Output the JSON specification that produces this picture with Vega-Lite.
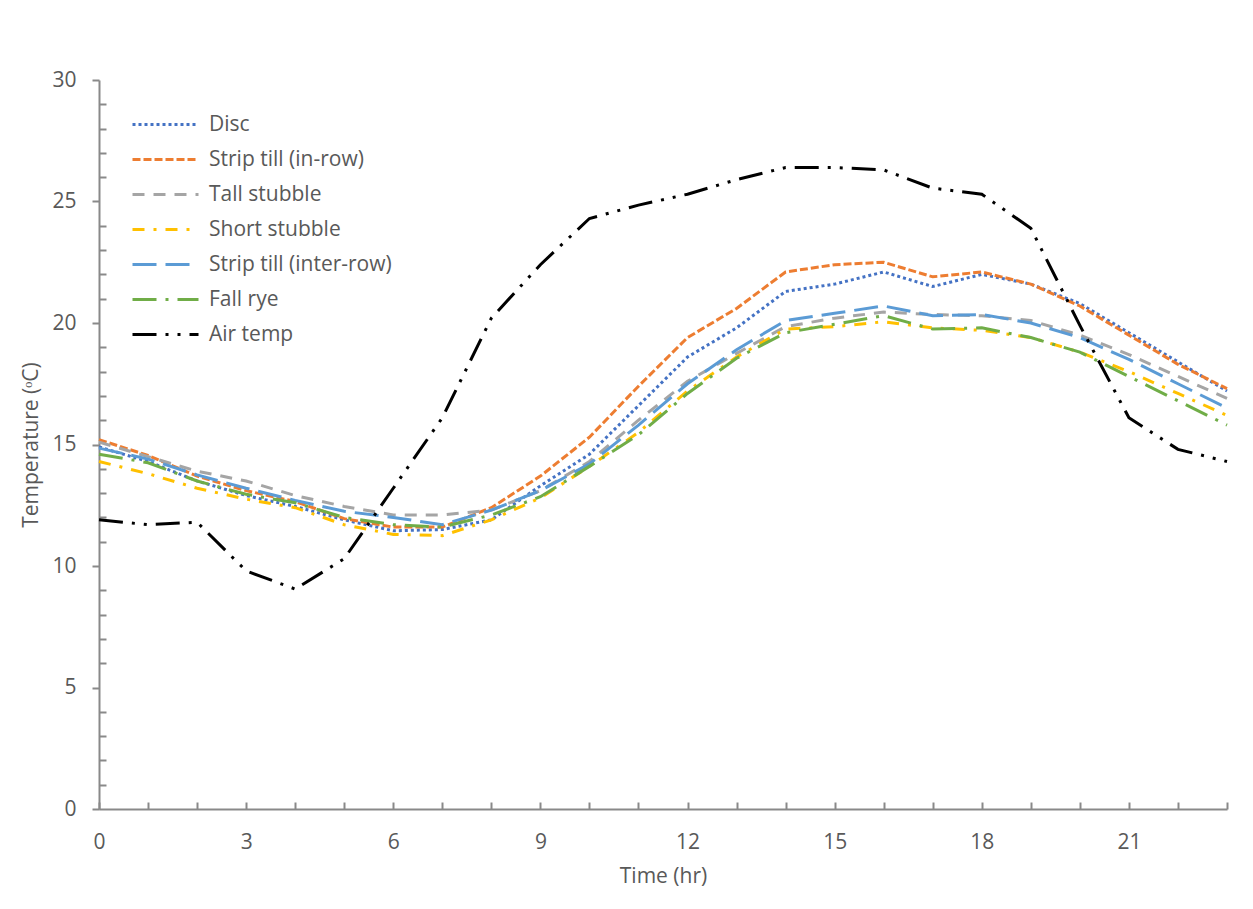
{
  "$schema": "https://vega.github.io/schema/vega-lite/v6.json",
  "width": 1128,
  "height": 729,
  "autosize": {"type": "none"},
  "padding": {"left": 99, "top": 80, "right": 26, "bottom": 100},
  "background": "white",
  "config": {
    "view": {"stroke": null},
    "font": "Open Sans",
    "axis": {"labelFont": "Open Sans", "titleFont": "Open Sans", "labelFontSize": 21, "titleFontSize": 21, "labelColor": "#595959", "titleColor": "#595959", "titleFontWeight": "normal", "domainColor": "#898989", "tickColor": "#898989", "domainWidth": 2, "tickWidth": 2, "grid": false},
    "legend": {"labelFont": "Open Sans", "labelFontSize": 21, "labelColor": "#595959"}
  },
  "data": {"values": [
    {"h":0,"s":"Disc","t":14.9},{"h":1,"s":"Disc","t":14.3},{"h":2,"s":"Disc","t":13.5},{"h":3,"s":"Disc","t":12.9},{"h":4,"s":"Disc","t":12.45},{"h":5,"s":"Disc","t":11.9},{"h":6,"s":"Disc","t":11.45},{"h":7,"s":"Disc","t":11.5},{"h":8,"s":"Disc","t":11.9},{"h":9,"s":"Disc","t":13.3},{"h":10,"s":"Disc","t":14.6},{"h":11,"s":"Disc","t":16.6},{"h":12,"s":"Disc","t":18.6},{"h":13,"s":"Disc","t":19.8},{"h":14,"s":"Disc","t":21.3},{"h":15,"s":"Disc","t":21.6},{"h":16,"s":"Disc","t":22.1},{"h":17,"s":"Disc","t":21.5},{"h":18,"s":"Disc","t":22.0},{"h":19,"s":"Disc","t":21.6},{"h":20,"s":"Disc","t":20.8},{"h":21,"s":"Disc","t":19.6},{"h":22,"s":"Disc","t":18.4},{"h":23,"s":"Disc","t":17.2},
    {"h":0,"s":"Strip till (in-row)","t":15.2},{"h":1,"s":"Strip till (in-row)","t":14.55},{"h":2,"s":"Strip till (in-row)","t":13.7},{"h":3,"s":"Strip till (in-row)","t":13.1},{"h":4,"s":"Strip till (in-row)","t":12.65},{"h":5,"s":"Strip till (in-row)","t":11.95},{"h":6,"s":"Strip till (in-row)","t":11.6},{"h":7,"s":"Strip till (in-row)","t":11.6},{"h":8,"s":"Strip till (in-row)","t":12.4},{"h":9,"s":"Strip till (in-row)","t":13.7},{"h":10,"s":"Strip till (in-row)","t":15.3},{"h":11,"s":"Strip till (in-row)","t":17.4},{"h":12,"s":"Strip till (in-row)","t":19.4},{"h":13,"s":"Strip till (in-row)","t":20.6},{"h":14,"s":"Strip till (in-row)","t":22.1},{"h":15,"s":"Strip till (in-row)","t":22.4},{"h":16,"s":"Strip till (in-row)","t":22.5},{"h":17,"s":"Strip till (in-row)","t":21.9},{"h":18,"s":"Strip till (in-row)","t":22.1},{"h":19,"s":"Strip till (in-row)","t":21.6},{"h":20,"s":"Strip till (in-row)","t":20.7},{"h":21,"s":"Strip till (in-row)","t":19.5},{"h":22,"s":"Strip till (in-row)","t":18.3},{"h":23,"s":"Strip till (in-row)","t":17.3},
    {"h":0,"s":"Tall stubble","t":15.1},{"h":1,"s":"Tall stubble","t":14.5},{"h":2,"s":"Tall stubble","t":13.9},{"h":3,"s":"Tall stubble","t":13.5},{"h":4,"s":"Tall stubble","t":12.9},{"h":5,"s":"Tall stubble","t":12.45},{"h":6,"s":"Tall stubble","t":12.1},{"h":7,"s":"Tall stubble","t":12.1},{"h":8,"s":"Tall stubble","t":12.3},{"h":9,"s":"Tall stubble","t":13.1},{"h":10,"s":"Tall stubble","t":14.3},{"h":11,"s":"Tall stubble","t":16.0},{"h":12,"s":"Tall stubble","t":17.6},{"h":13,"s":"Tall stubble","t":18.75},{"h":14,"s":"Tall stubble","t":19.85},{"h":15,"s":"Tall stubble","t":20.2},{"h":16,"s":"Tall stubble","t":20.45},{"h":17,"s":"Tall stubble","t":20.35},{"h":18,"s":"Tall stubble","t":20.3},{"h":19,"s":"Tall stubble","t":20.1},{"h":20,"s":"Tall stubble","t":19.5},{"h":21,"s":"Tall stubble","t":18.7},{"h":22,"s":"Tall stubble","t":17.8},{"h":23,"s":"Tall stubble","t":16.9},
    {"h":0,"s":"Short stubble","t":14.3},{"h":1,"s":"Short stubble","t":13.8},{"h":2,"s":"Short stubble","t":13.2},{"h":3,"s":"Short stubble","t":12.75},{"h":4,"s":"Short stubble","t":12.4},{"h":5,"s":"Short stubble","t":11.7},{"h":6,"s":"Short stubble","t":11.3},{"h":7,"s":"Short stubble","t":11.25},{"h":8,"s":"Short stubble","t":11.9},{"h":9,"s":"Short stubble","t":12.8},{"h":10,"s":"Short stubble","t":14.1},{"h":11,"s":"Short stubble","t":15.5},{"h":12,"s":"Short stubble","t":17.2},{"h":13,"s":"Short stubble","t":18.6},{"h":14,"s":"Short stubble","t":19.75},{"h":15,"s":"Short stubble","t":19.85},{"h":16,"s":"Short stubble","t":20.05},{"h":17,"s":"Short stubble","t":19.8},{"h":18,"s":"Short stubble","t":19.7},{"h":19,"s":"Short stubble","t":19.4},{"h":20,"s":"Short stubble","t":18.8},{"h":21,"s":"Short stubble","t":18.0},{"h":22,"s":"Short stubble","t":17.1},{"h":23,"s":"Short stubble","t":16.2},
    {"h":0,"s":"Strip till (inter-row)","t":14.85},{"h":1,"s":"Strip till (inter-row)","t":14.4},{"h":2,"s":"Strip till (inter-row)","t":13.75},{"h":3,"s":"Strip till (inter-row)","t":13.2},{"h":4,"s":"Strip till (inter-row)","t":12.7},{"h":5,"s":"Strip till (inter-row)","t":12.25},{"h":6,"s":"Strip till (inter-row)","t":12.0},{"h":7,"s":"Strip till (inter-row)","t":11.7},{"h":8,"s":"Strip till (inter-row)","t":12.3},{"h":9,"s":"Strip till (inter-row)","t":13.1},{"h":10,"s":"Strip till (inter-row)","t":14.2},{"h":11,"s":"Strip till (inter-row)","t":15.8},{"h":12,"s":"Strip till (inter-row)","t":17.5},{"h":13,"s":"Strip till (inter-row)","t":18.9},{"h":14,"s":"Strip till (inter-row)","t":20.1},{"h":15,"s":"Strip till (inter-row)","t":20.4},{"h":16,"s":"Strip till (inter-row)","t":20.7},{"h":17,"s":"Strip till (inter-row)","t":20.3},{"h":18,"s":"Strip till (inter-row)","t":20.35},{"h":19,"s":"Strip till (inter-row)","t":20.0},{"h":20,"s":"Strip till (inter-row)","t":19.4},{"h":21,"s":"Strip till (inter-row)","t":18.5},{"h":22,"s":"Strip till (inter-row)","t":17.5},{"h":23,"s":"Strip till (inter-row)","t":16.5},
    {"h":0,"s":"Fall rye","t":14.6},{"h":1,"s":"Fall rye","t":14.25},{"h":2,"s":"Fall rye","t":13.5},{"h":3,"s":"Fall rye","t":12.95},{"h":4,"s":"Fall rye","t":12.6},{"h":5,"s":"Fall rye","t":12.0},{"h":6,"s":"Fall rye","t":11.7},{"h":7,"s":"Fall rye","t":11.6},{"h":8,"s":"Fall rye","t":12.1},{"h":9,"s":"Fall rye","t":12.85},{"h":10,"s":"Fall rye","t":14.1},{"h":11,"s":"Fall rye","t":15.4},{"h":12,"s":"Fall rye","t":17.1},{"h":13,"s":"Fall rye","t":18.55},{"h":14,"s":"Fall rye","t":19.6},{"h":15,"s":"Fall rye","t":19.95},{"h":16,"s":"Fall rye","t":20.3},{"h":17,"s":"Fall rye","t":19.75},{"h":18,"s":"Fall rye","t":19.8},{"h":19,"s":"Fall rye","t":19.4},{"h":20,"s":"Fall rye","t":18.8},{"h":21,"s":"Fall rye","t":17.8},{"h":22,"s":"Fall rye","t":16.8},{"h":23,"s":"Fall rye","t":15.8},
    {"h":0,"s":"Air temp","t":11.9},{"h":1,"s":"Air temp","t":11.7},{"h":2,"s":"Air temp","t":11.8},{"h":3,"s":"Air temp","t":9.8},{"h":4,"s":"Air temp","t":9.05},{"h":5,"s":"Air temp","t":10.3},{"h":6,"s":"Air temp","t":13.2},{"h":7,"s":"Air temp","t":16.1},{"h":8,"s":"Air temp","t":20.2},{"h":9,"s":"Air temp","t":22.4},{"h":10,"s":"Air temp","t":24.3},{"h":11,"s":"Air temp","t":24.85},{"h":12,"s":"Air temp","t":25.3},{"h":13,"s":"Air temp","t":25.9},{"h":14,"s":"Air temp","t":26.4},{"h":15,"s":"Air temp","t":26.4},{"h":16,"s":"Air temp","t":26.3},{"h":17,"s":"Air temp","t":25.55},{"h":18,"s":"Air temp","t":25.3},{"h":19,"s":"Air temp","t":23.9},{"h":20,"s":"Air temp","t":19.9},{"h":21,"s":"Air temp","t":16.1},{"h":22,"s":"Air temp","t":14.8},{"h":23,"s":"Air temp","t":14.3}
  ]},
  "mark": {"type": "line", "strokeWidth": 3, "strokeCap": "butt"},
  "encoding": {
    "x": {"field": "h", "type": "quantitative", "title": "Time (hr)",
      "scale": {"domain": [0, 23], "nice": false, "zero": false},
      "axis": {"values": [0,1,2,3,4,5,6,7,8,9,10,11,12,13,14,15,16,17,18,19,20,21,22,23], "labelExpr": "datum.value % 3 === 0 ? datum.label : ''", "tickSize": -7, "labelPadding": 29, "titlePadding": 13, "labelFlush": false, "labelOverlap": false}},
    "y": {"field": "t", "type": "quantitative", "title": "Temperature (ᵒC)",
      "scale": {"domain": [0, 30], "nice": false},
      "axis": {"values": [0,1,2,3,4,5,6,7,8,9,10,11,12,13,14,15,16,17,18,19,20,21,22,23,24,25,26,27,28,29,30], "labelExpr": "datum.value % 5 === 0 ? datum.label : ''", "tickSize": {"condition": {"test": "datum.value % 5 === 0", "value": 7}, "value": -7}, "labelPadding": 16, "titlePadding": 10, "labelFlush": false, "labelOverlap": false}},
    "color": {"field": "s", "type": "nominal", "title": null,
      "scale": {"domain": ["Disc", "Strip till (in-row)", "Tall stubble", "Short stubble", "Strip till (inter-row)", "Fall rye", "Air temp"],
                "range": ["#4472C4", "#ED7D31", "#A5A5A5", "#FFC000", "#5B9BD5", "#70AD47", "#000000"]},
      "legend": {"orient": "none", "legendX": 55, "legendY": 33, "padding": 0, "symbolType": "M-3.3,0H3.3", "symbolSize": 400, "symbolStrokeWidth": 3, "labelOffset": 32, "rowPadding": 13, "labelLimit": 400, "symbolFillColor": "transparent"}},
    "strokeDash": {"field": "s", "type": "nominal", "title": null,
      "scale": {"domain": ["Disc", "Strip till (in-row)", "Tall stubble", "Short stubble", "Strip till (inter-row)", "Fall rye", "Air temp"],
                "range": [[3, 3], [8, 3], [12, 9], [12, 9, 3, 9], [24, 9], [24, 9, 3, 9], [24, 9, 3, 9, 3, 9]]}}
  }
}
